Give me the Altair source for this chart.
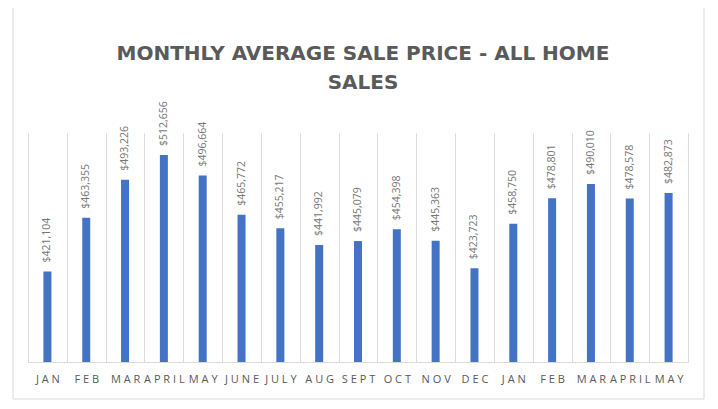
import altair as alt
import pandas as pd

title_lines = ["MONTHLY AVERAGE SALE PRICE - ALL HOME", "SALES"]
months = ["JAN", "FEB", "MAR", "APRIL", "MAY", "JUNE", "JULY", "AUG", "SEPT",
          "OCT", "NOV", "DEC", "JAN", "FEB", "MAR", "APRIL", "MAY"]
prices = [421104, 463355, 493226, 512656, 496664, 465772, 455217, 441992, 445079,
          454398, 445363, 423723, 458750, 478801, 490010, 478578, 482873]
y_min, y_max = 350000, 530000

df = pd.DataFrame({
    "key": [f"{i:02d}|{m}" for i, m in enumerate(months)],
    "price": prices,
})

W, H = 660, 229
FONT = "Open Sans"

x_enc = alt.X(
    "key:N", sort="ascending", title=None,
    scale=alt.Scale(paddingInner=0, paddingOuter=0),
    axis=alt.Axis(
        labelExpr="indexof(datum.label + '', '|') >= 0 ? join(split(split(datum.label, '|')[1], ''), ' ') : ''",
        labelAngle=0, labelFont=FONT, labelFontSize=11, labelColor="#595959",
        labelPadding=11, ticks=False, grid=True, tickBand="extent",
        gridColor="#d9d9d9", domainColor="#d9d9d9",
    ),
)
y_scale = alt.Scale(domain=[y_min, y_max], zero=False, nice=False)

border = alt.Chart(pd.DataFrame({"a": [0]})).mark_rect(
    fill="transparent", stroke="#d9d9d9", strokeWidth=1
).encode(
    x=alt.value(-15), x2=alt.value(676), y=alt.value(-127), y2=alt.value(266)
)

title = alt.Chart(pd.DataFrame({"t": ["\n".join(title_lines)]})).mark_text(
    font="DejaVu Sans", fontSize=20, fontWeight="bold", color="#5a5a5a",
    align="center", baseline="alphabetic", lineBreak="\n", lineHeight=29,
).encode(
    text="t:N", x=alt.value(335), y=alt.value(-73)
)

base = alt.Chart(df)
bars = base.mark_bar(color="#4472C4", size=8).encode(
    x=x_enc,
    y=alt.Y("price:Q", scale=y_scale, axis=None),
    y2=alt.Y2(datum=y_min),
)
labels = base.mark_text(
    angle=270, align="left", baseline="middle", dx=9,
    font=FONT, fontSize=10.5, color="#767676",
).encode(
    x=x_enc,
    y=alt.Y("price:Q", scale=y_scale, axis=None),
    text=alt.Text("price:Q", format="$,"),
)

chart = alt.layer(border, title, bars, labels).properties(
    width=W, height=H,
    autosize=alt.AutoSizeParams(type="none"),
    padding={"left": 20, "top": 125, "right": 20, "bottom": 38},
).configure_view(stroke=None)

chart.save("out.html", embed_options={"renderer": "svg", "actions": False})
